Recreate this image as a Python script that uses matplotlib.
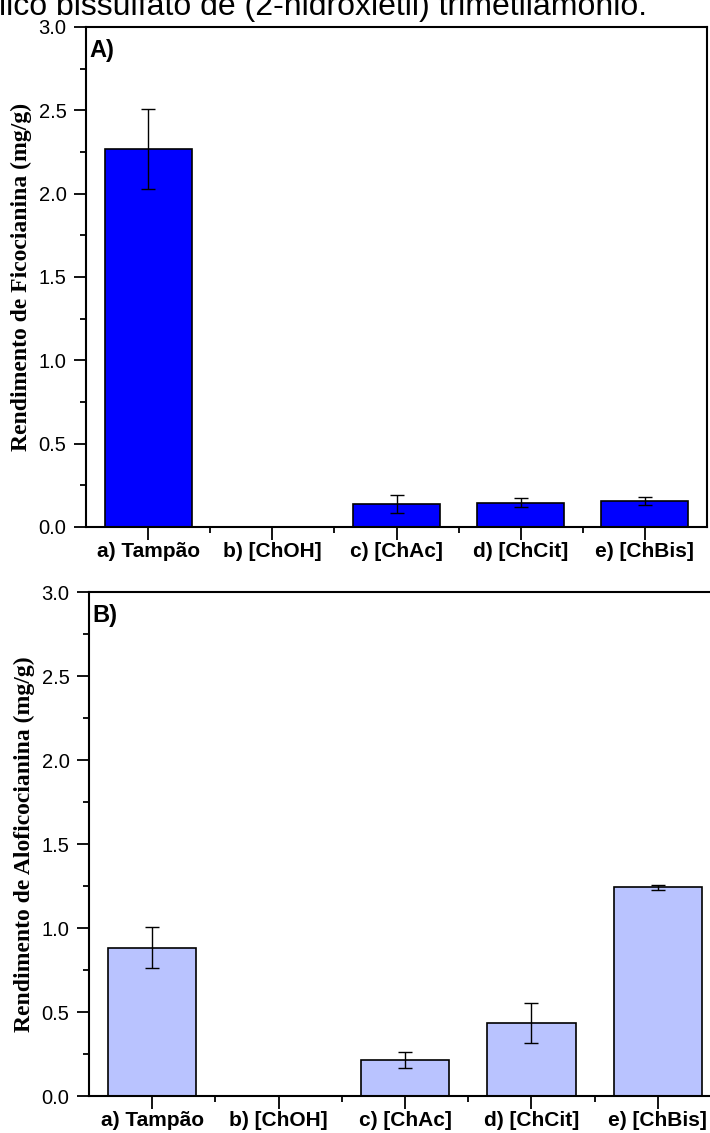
import numpy as np
import matplotlib.pyplot as plt
from matplotlib.ticker import MultipleLocator, FormatStrFormatter

categorias = ['a) Tampão', 'b) [ChOH]', 'c) [ChAc]', 'd) [ChCit]', 'e) [ChBis]']

ficocianina = [2.27, 0.0, 0.14, 0.145, 0.154]
ficocianina_err = [0.24, 0.0, 0.053, 0.027, 0.024]

aloficocianina = [0.883, 0.0, 0.216, 0.435, 1.243]
aloficocianina_err = [0.12, 0.0, 0.048, 0.12, 0.015]

legenda = 'lico bissulfato de (2-hidroxietil) trimetilamônio.'

W, H = 710, 1133
fig = plt.figure(figsize=(W / 100, H / 100), dpi=100)

# legenda da figura, cortada pela borda superior
fig.text(-1 / W, 1 - 15 / H, legenda, fontsize=23, family='Liberation Sans',
         ha='left', va='baseline')


def painel(rect, valores, erros, cor, rotulo, letra):
    ax = fig.add_axes(rect)
    x = np.arange(1, len(categorias) + 1)
    ax.bar(x, valores, width=0.7, color=cor, edgecolor='black', linewidth=1.2, zorder=2)
    ax.errorbar(x, valores, yerr=erros, fmt='none', ecolor='black', elinewidth=1,
                capsize=5, capthick=1, zorder=3)
    ax.set_xlim(0.5, 5.5)
    ax.set_ylim(0, 3.0)
    ax.set_xticks(x)
    ax.set_xticklabels(categorias, fontsize=15, fontweight='bold', family='Liberation Sans')
    ax.set_xticks(np.arange(1.5, 5.5, 1), minor=True)
    ax.yaxis.set_major_locator(MultipleLocator(0.5))
    ax.yaxis.set_minor_locator(MultipleLocator(0.25))
    ax.yaxis.set_major_formatter(FormatStrFormatter('%.1f'))
    for t in ax.get_yticklabels():
        t.set_family('Liberation Sans')
        t.set_fontsize(14.5)
    ax.tick_params(which='major', direction='out', length=9, width=1.3)
    ax.tick_params(which='minor', direction='out', length=4.5, width=1.3)
    ax.tick_params(axis='x', which='major', pad=2)
    ax.tick_params(axis='y', which='major', pad=5)
    for s in ax.spines.values():
        s.set_linewidth(1.5)
    ax.set_ylabel(rotulo, fontsize=17, fontweight='bold', family='Liberation Serif',
                  labelpad=5)
    ax.text(0.006, 1 - 12 / (rect[3] * H), letra, transform=ax.transAxes, fontsize=17,
            fontweight='bold', family='Liberation Sans', ha='left', va='top')
    return ax


painel([86 / W, 1 - 527 / H, (707 - 86) / W, 500 / H], ficocianina, ficocianina_err,
       '#0000FF', 'Rendimento de Ficocianina (mg/g)', 'A)')
painel([89 / W, 1 - 1096 / H, (721 - 89) / W, 504 / H], aloficocianina, aloficocianina_err,
       '#B9C3FF', 'Rendimento de Aloficocianina (mg/g)', 'B)')

fig.savefig('out.png', dpi=100)
